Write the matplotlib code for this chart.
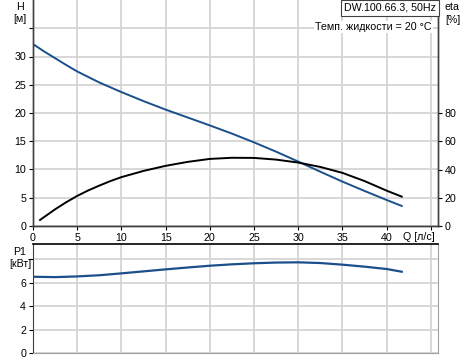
import matplotlib
matplotlib.use("Agg")
import matplotlib.pyplot as plt

plt.rcParams['font.family'] = ['Liberation Sans', 'DejaVu Sans']
plt.rcParams['font.size'] = 7.7

# flow Q [l/s]
q = [0, 1.25, 2.5, 3.75, 5, 7.5, 10, 12.5, 15, 17.5, 20, 22.5, 25, 27.5, 30, 32.5, 35, 37.5, 40, 41.7]
head = [32.2, 30.9, 29.7, 28.5, 27.35, 25.4, 23.7, 22.1, 20.6, 19.2, 17.8, 16.35, 14.8, 13.15, 11.4, 9.6, 7.85, 6.2, 4.6, 3.55]

q_eta = [0.8, 1.25, 2.5, 3.75, 5, 6.25, 7.5, 8.75, 10, 12.5, 15, 17.5, 20, 22.5, 25, 27.5, 30, 32.5, 35, 37.5, 40, 41.7]
eta = [4.3, 6.3, 11.8, 16.8, 21.3, 25.2, 28.6, 31.8, 34.6, 39.0, 42.6, 45.4, 47.5, 48.3, 48.2, 47.0, 44.9, 41.8, 37.6, 31.8, 25.0, 20.8]

q_p = [0, 2.5, 5, 7.5, 10, 12.5, 15, 17.5, 20, 22.5, 25, 27.5, 30, 32.5, 35, 37.5, 40, 41.7]
p1 = [6.49, 6.46, 6.52, 6.62, 6.78, 6.95, 7.12, 7.28, 7.43, 7.55, 7.64, 7.70, 7.72, 7.66, 7.52, 7.35, 7.15, 6.92]

x_ticks = [0, 5, 10, 15, 20, 25, 30, 35, 40, 45]
x_labels = ['0', '5', '10', '15', '20', '25', '30', '35', '40', '']
h_ticks = [0, 5, 10, 15, 20, 25, 30, 35]
h_labels = ['0', '5', '10', '15', '20', '25', '30', '']
eta_ticks = [0, 20, 40, 60, 80]
p_ticks = [0, 2, 4, 6, 8]
p_labels = ['0', '2', '4', '6', '']

blue = '#1a4f8b'
grid_c = '#d4d4d4'
spine_c = '#404040'
W, H = 464, 362

fig = plt.figure(figsize=(W / 100, H / 100), dpi=100)
ax = fig.add_axes([33 / W, 1 - 226 / H, (438 - 33) / W, 226 / H])
ax2 = ax.twinx()
axp = fig.add_axes([33 / W, 1 - 353 / H, (438 - 33) / W, (353 - 244) / H])

xmax = 45.8
for a in (ax, axp):
    a.set_xlim(0, xmax)
    a.set_xticks(x_ticks)
    a.grid(True, color=grid_c, lw=1.3)
    a.set_axisbelow(True)
    a.tick_params(length=3, width=0.8, pad=2, colors='black')

ax.set_ylim(0, 40)
ax.set_yticks(h_ticks)
ax.set_yticklabels(h_labels)
ax.set_xticklabels(x_labels)
ax2.set_ylim(0, 160)
ax2.set_yticks(eta_ticks)
ax2.tick_params(length=3, width=0.8, pad=2)

ax.plot(q, head, color=blue, lw=1.4, zorder=3)
ax2.plot(q_eta, eta, color='black', lw=1.4, zorder=3)

for a in (ax, ax2):
    a.spines['top'].set_visible(False)
    for s in ('left', 'right', 'bottom'):
        a.spines[s].set_color(spine_c)
        a.spines[s].set_linewidth(1.0)

axp.set_ylim(0, 9.28)
axp.set_yticks(p_ticks)
axp.set_yticklabels(p_labels)
axp.set_xticklabels([])
axp.plot(q_p, p1, color=blue, lw=1.6, zorder=3)
axp.spines['top'].set_color('black')
axp.spines['top'].set_linewidth(1.2)
axp.spines['left'].set_color(spine_c)
axp.spines['right'].set_color('#a0a0a0')
axp.spines['bottom'].set_color('#a0a0a0')
axp.tick_params(axis='x', length=0)

# axis captions
fig.text(20 / W, 1 - 7 / H, 'H', ha='center', va='center')
fig.text(20 / W, 1 - 19 / H, '[м]', ha='center', va='center')
fig.text(445 / W, 1 - 7 / H, 'eta', ha='left', va='center')
fig.text(445 / W, 1 - 20 / H, '[%]', ha='left', va='center')
fig.text(435 / W, 1 - 237 / H, 'Q [л/с]', ha='right', va='center')
fig.text(20 / W, 1 - 252 / H, 'P1', ha='center', va='center')
fig.text(20 / W, 1 - 264 / H, '[кВт]', ha='center', va='center')

fig.text(390 / W, 1 - 8 / H, 'DW.100.66.3, 50Hz', ha='center', va='center',
         bbox=dict(boxstyle='square,pad=0.25', fc='white', ec='#404040', lw=0.8))
fig.text(432 / W, 1 - 27 / H, 'Темп. жидкости = 20 °C', ha='right', va='center',
         bbox=dict(boxstyle='square,pad=0.1', fc='white', ec='none'))

fig.savefig('out.png', dpi=100)
